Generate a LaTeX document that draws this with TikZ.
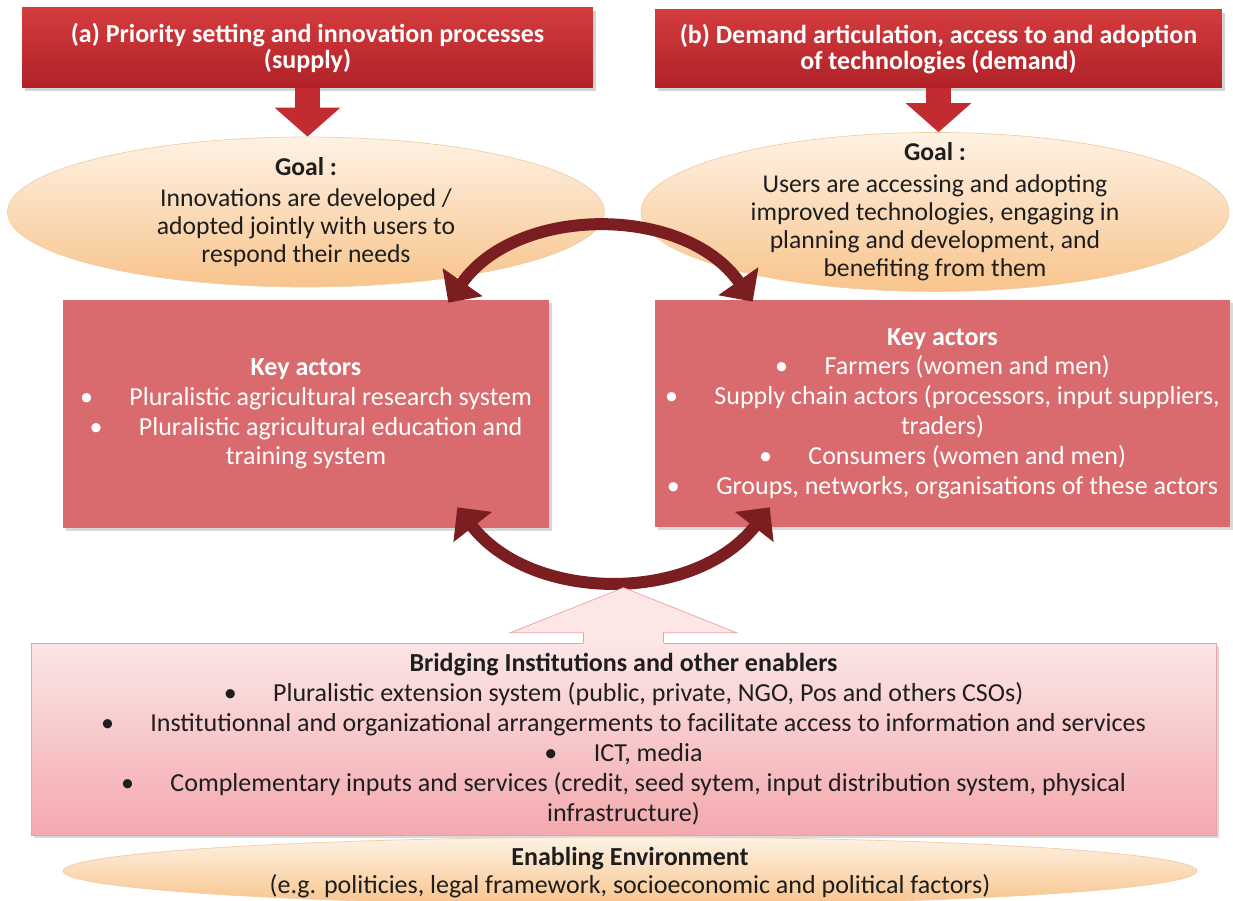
\documentclass[tikz,border=0pt]{standalone}
\usepackage{fontspec}
\setmainfont{Carlito}
\usetikzlibrary{shapes.geometric,shadows,arrows.meta,calc}
\definecolor{headtop}{HTML}{D43C3E}
\definecolor{headbot}{HTML}{B02127}
\definecolor{feedred}{HTML}{C22B30}
\definecolor{goaltop}{HTML}{FEF2E4}
\definecolor{goalbot}{HTML}{F8C48C}
\definecolor{goaledge}{HTML}{F0CDA5}
\definecolor{actorfill}{HTML}{D96A6D}
\definecolor{cycred}{HTML}{7A1E21}
\definecolor{enabtop}{HTML}{FCE6E6}
\definecolor{enabbot}{HTML}{F3A9AE}
\definecolor{enabline}{HTML}{E8A2A7}
\definecolor{ink}{HTML}{1E1E1E}
\tikzset{>=latex}
\tikzset{
    headbox/.style={top color=headtop,bottom color=headbot,text=white,align=center,
        font=\bfseries\fontsize{14.8}{15}\selectfont,minimum height=1.6cm,
        drop shadow={opacity=0.35,shadow xshift=1.5pt,shadow yshift=-1.5pt}},
    goal/.style={ellipse,draw=goaledge,top color=goaltop,bottom color=goalbot,inner sep=0pt},
    goaltxt/.style={text=ink,align=center,font=\fontsize{14.6}{16}\selectfont},
    actors/.style={fill=actorfill,text=white,align=center,
        font=\fontsize{14.8}{17}\selectfont,
        drop shadow={opacity=0.3,shadow xshift=1.5pt,shadow yshift=-1.5pt}},
    feed/.style={line width=0.5cm,feedred,-{Triangle[width=1.28cm,length=0.58cm]}},
    cycle arrow/.style={line width=0.24cm,cycred,
        {Triangle[width=0.95cm,length=0.5cm]}-{Triangle[width=0.95cm,length=0.5cm]}},
    enabler/.style={draw=enabline,top color=enabtop,bottom color=enabbot,text=ink,
        align=center,font=\fontsize{14.8}{17}\selectfont,
        drop shadow={opacity=0.3,shadow xshift=1.5pt,shadow yshift=-1.5pt}}
}
\newcommand\bul{\textbullet\hspace{1.4em}}

\begin{document}
\begin{tikzpicture}[x=0.02cm,y=-0.02cm]
\useasboundingbox (0,0) rectangle (1233,901);

\node[headbox,minimum width=11.42cm] (A) at (307.5,48)
    {(a) Priority setting and innovation processes\\(supply)};
\node[headbox,minimum width=11.34cm,minimum height=1.56cm] (B) at (938.5,49)
    {(b) Demand articulation, access to and adoption\\of technologies (demand)};

\node[goal,minimum width=11.94cm,minimum height=3cm] (GA) at (306,212) {};
\node[goaltxt] (GAt) at (GA) {\textbf{Goal :}\\[2pt]Innovations are developed /\\adopted jointly with users to\\respond their needs};
\node[goal,minimum width=11.76cm,minimum height=3.18cm] (GB) at (935,212) {};
\node[goaltxt] (GBt) at (GB) {\textbf{Goal :}\\[2pt]Users are accessing and adopting\\improved technologies, engaging in\\planning and development, and\\benefiting from them};

\draw[feed] (A.south) -- (A.south |- GA.north);
\draw[feed] (B.south) -- (B.south |- GB.north);

\node[actors,minimum width=9.72cm,minimum height=4.56cm] (C) at (306,414)
    {\textbf{Key actors}\\
     \bul Pluralistic agricultural research system\\
     \bul Pluralistic agricultural education and\\
     training system};
\node[actors,minimum width=11.5cm,minimum height=4.54cm] (D) at (942.5,413.5)
    {\textbf{Key actors}\\
     \bul Farmers (women and men)\\
     \bul Supply chain actors (processors, input suppliers,\\
     traders)\\
     \bul Consumers (women and men)\\
     \bul Groups, networks, organisations of these actors};

\draw[cycle arrow] ($(C.north east)+(-101,3)$) to[out=55,in=125] ($(D.north west)+(98,2)$);
\draw[cycle arrow] ($(C.south east)+(-92,-21)$) to[out=-52,in=-128] ($(D.south west)+(115,-20)$);

\node[enabler,minimum width=23.7cm,minimum height=3.84cm] (E) at (623.5,739)
    {\textbf{Bridging Institutions and other enablers}\\
     \bul Pluralistic extension system (public, private, NGO, Pos and others CSOs)\\
     \bul Institutionnal and organizational arrangerments to facilitate access to information and services\\
     \bul ICT, media\\
     \bul Complementary inputs and services (credit, seed sytem, input distribution system, physical\\
     infrastructure)};

\begin{scope}[shift={(E.north)}]
    \fill[enabtop] (-40,3) -- (-40,-10) -- (-113,-10) -- (0,-55) -- (113,-10) -- (40,-10) -- (40,3) -- cycle;
    \draw[enabline] (-40,0) -- (-40,-10) -- (-113,-10) -- (0,-55) -- (113,-10) -- (40,-10) -- (40,0);
\end{scope}

\node[goal,minimum width=22.68cm,minimum height=1.36cm] (F) at (630,871) {};
\node[goaltxt,font=\fontsize{14.8}{16}\selectfont] (Ft) at ($(F)+(0,2)$)
    {\textbf{Enabling Environment}\\(e.g. politicies, legal framework, socioeconomic and political factors)};
\end{tikzpicture}
\end{document}
